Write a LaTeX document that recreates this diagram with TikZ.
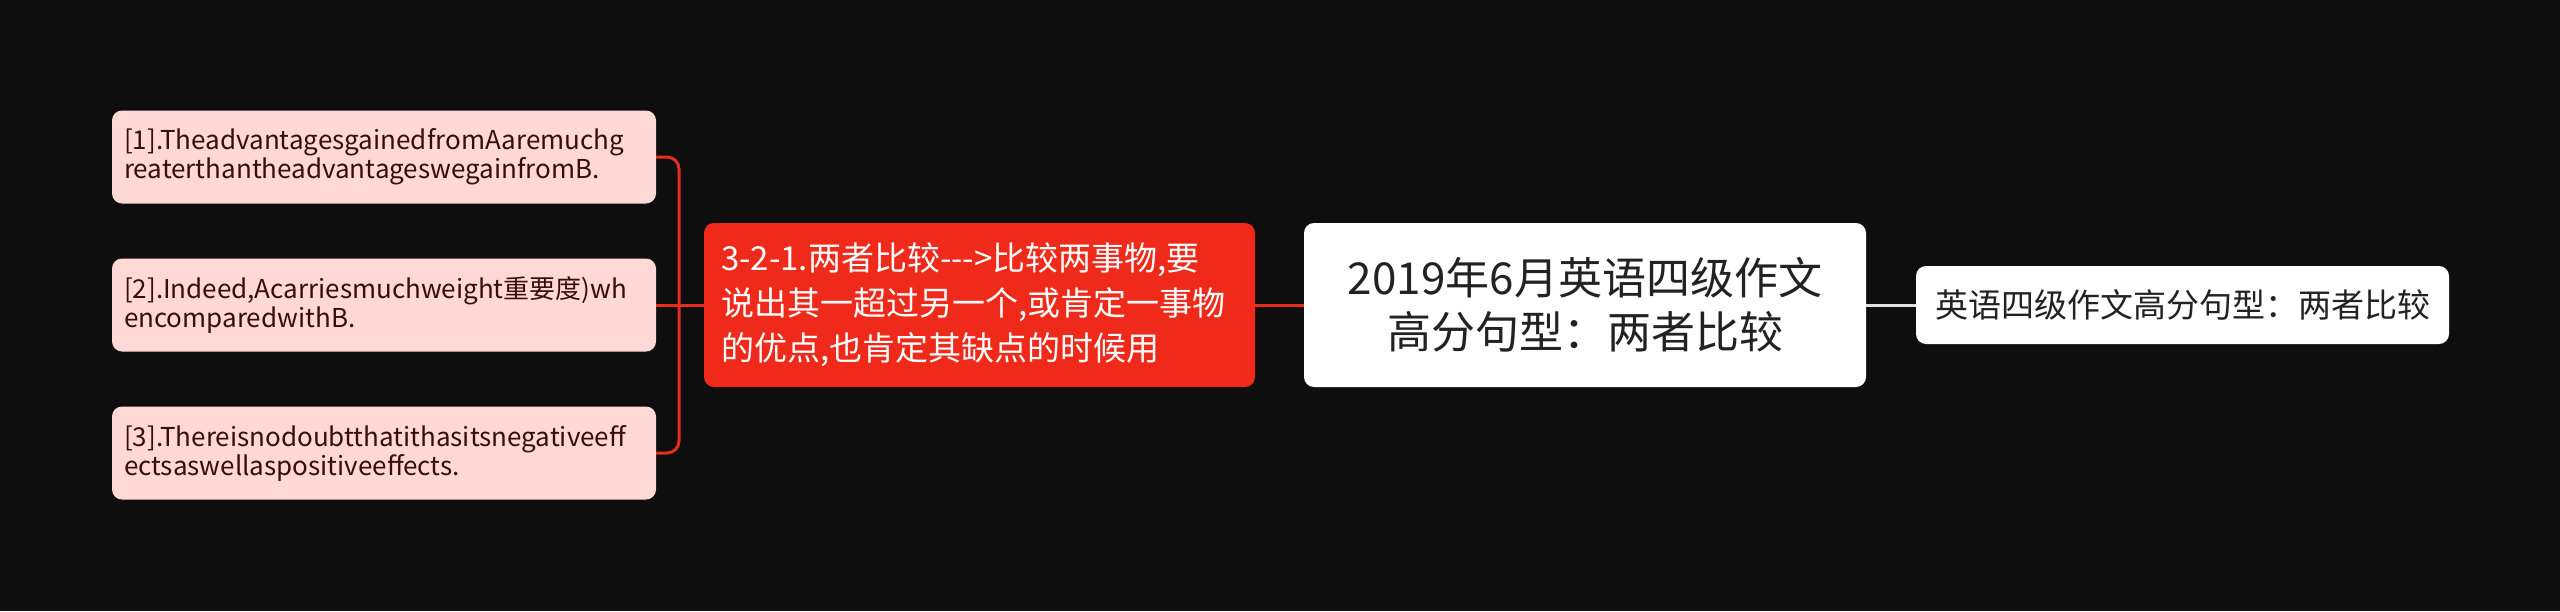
\documentclass[tikz,border=0pt]{standalone}
\usepackage{fontspec}
\setmainfont{Noto Sans CJK SC}
\definecolor{bg}{RGB}{14,14,14}
\definecolor{pinkfill}{RGB}{255,217,213}
\definecolor{redfill}{RGB}{240,42,26}
\definecolor{redline}{RGB}{232,44,30}
\definecolor{greyline}{RGB}{225,225,225}
\definecolor{leaftext}{RGB}{58,12,12}
\definecolor{darktext}{RGB}{34,34,34}
\tikzset{
  leafbox/.style={fill=pinkfill, rounded corners=10pt, minimum width=544pt, minimum height=93pt,
    text width=520pt, inner xsep=12pt, align=left, text=leaftext,
    font=\fontsize{26}{29}\selectfont},
  redbox/.style={fill=redfill, rounded corners=10pt, minimum width=551pt, minimum height=164pt,
    text width=517pt, inner xsep=17pt, align=left, text=white,
    font=\fontsize{33}{45}\selectfont},
  rootbox/.style={fill=white, rounded corners=10pt, minimum width=562pt, minimum height=164pt,
    align=center, text=darktext, font=\fontsize{44}{54}\selectfont},
  subbox/.style={fill=white, rounded corners=10pt, minimum width=533pt, minimum height=78pt,
    align=center, text=darktext, font=\fontsize{33}{40}\selectfont},
  redlink/.style={draw=redline, line width=3pt, rounded corners=12pt},
  greylink/.style={draw=greyline, line width=3pt}
}
\begin{document}
\begin{tikzpicture}[x=1pt,y=-1pt]
\fill[bg] (0,0) rectangle (2560,611);
\useasboundingbox (0,0) rectangle (2560,611);

\node[rootbox] (root) at (1585,305) {2019年6月英语四级作文\\高分句型：两者比较};
\node[subbox] (sub) at (2182.5,305) {英语四级作文高分句型：两者比较};
\node[redbox] (red) at (979.5,305) {3-2-1.两者比较-{}-{}->比较两事物,要\\说出其一超过另一个,或肯定一事物\\的优点,也肯定其缺点的时候用};
\node[leafbox] (l1) at (384,157) {[1].TheadvantagesgainedfromAaremuchg\\reaterthantheadvantageswegainfromB.};
\node[leafbox] (l2) at (384,305) {[2].Indeed,Acarriesmuchweight重要度)wh\\encomparedwithB.};
\node[leafbox] (l3) at (384,453) {[3].Thereisnodoubtthatithasitsnegativeeff\\ectsaswellaspositiveeffects.};

\coordinate (j) at (679,305);
\draw[greylink] (root.east) -- (sub.west);
\draw[redlink] (red.east) -- (root.west);
\draw[redlink] (l1.east) -| (j) |- (l3.east);
\draw[redlink] (red.west) -- (l2.east);
\end{tikzpicture}
\end{document}
